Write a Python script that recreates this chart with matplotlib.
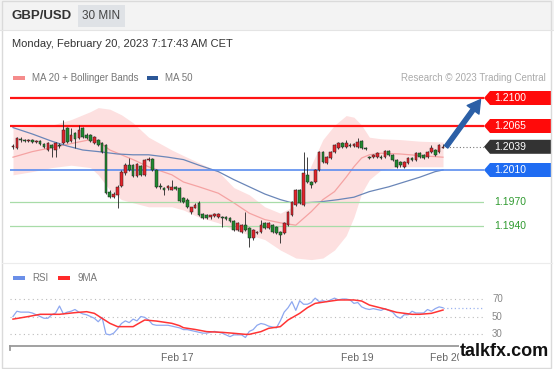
import numpy as np
import matplotlib.pyplot as plt
from matplotlib.patches import Polygon, Rectangle
from matplotlib.transforms import blended_transform_factory

plt.rcParams['font.family'] = ['Liberation Sans', 'DejaVu Sans']

# 30 min GBP/USD candles (open, high, low, close)
opens = [1.2039, 1.2037, 1.2049, 1.2047, 1.2046, 1.2047, 1.2045, 1.2046, 1.2042, 1.2035,
         1.2041, 1.2035, 1.2041, 1.2044, 1.2062, 1.2046, 1.2056, 1.2050, 1.2062, 1.2054,
         1.2054, 1.2044, 1.2047, 1.2044, 1.2041, 1.1982, 1.1976, 1.1979, 1.1990, 1.2006,
         1.2016, 1.2016, 1.2002, 1.2015, 1.2004, 1.2022, 1.2024, 1.2010, 1.1990, 1.1987,
         1.1987, 1.1985, 1.1989, 1.1987, 1.1975, 1.1972, 1.1957, 1.1962, 1.1969, 1.1955,
         1.1954, 1.1951, 1.1952, 1.1951, 1.1951, 1.1951, 1.1950, 1.1946, 1.1935, 1.1932,
         1.1941, 1.1937, 1.1925, 1.1931, 1.1932, 1.1944, 1.1937, 1.1941, 1.1939, 1.1932,
         1.1931, 1.1941, 1.1954, 1.1966, 1.1985, 1.1966, 1.2004, 1.1995, 1.1995, 1.2010,
         1.2032, 1.2019, 1.2025, 1.2032, 1.2037, 1.2044, 1.2039, 1.2041, 1.2040, 1.2039,
         1.2046, 1.2037, 1.2026, 1.2026, 1.2026, 1.2026, 1.2026, 1.2034, 1.2029, 1.2022,
         1.2020, 1.2014, 1.2019, 1.2025, 1.2022, 1.2031, 1.2029, 1.2026, 1.2032, 1.2035,
         1.2032, 1.2037]
highs = [1.2042, 1.2051, 1.2051, 1.2049, 1.2049, 1.2049, 1.2047, 1.2047, 1.2044, 1.2045,
         1.2042, 1.2045, 1.2044, 1.2073, 1.2064, 1.2062, 1.2058, 1.2066, 1.2064, 1.2056,
         1.2055, 1.2052, 1.2049, 1.2045, 1.2042, 1.1985, 1.1982, 1.1991, 1.2010, 1.2019,
         1.2025, 1.2017, 1.2019, 1.2016, 1.2024, 1.2026, 1.2025, 1.2011, 1.1994, 1.1989,
         1.1991, 1.1997, 1.1990, 1.1989, 1.1976, 1.1975, 1.1964, 1.1969, 1.1971, 1.1956,
         1.1955, 1.1954, 1.1956, 1.1956, 1.1952, 1.1952, 1.1951, 1.1947, 1.1945, 1.1942,
         1.1957, 1.1939, 1.1936, 1.1934, 1.1947, 1.1945, 1.1945, 1.1942, 1.1940, 1.1934,
         1.1945, 1.1959, 1.1971, 1.1986, 1.1986, 1.2032, 1.2026, 1.1996, 1.2011, 1.2034,
         1.2034, 1.2027, 1.2034, 1.2042, 1.2045, 1.2045, 1.2047, 1.2044, 1.2044, 1.2050,
         1.2047, 1.2039, 1.2027, 1.2030, 1.2032, 1.2029, 1.2035, 1.2035, 1.2030, 1.2024,
         1.2021, 1.2021, 1.2026, 1.2026, 1.2032, 1.2032, 1.2030, 1.2034, 1.2041, 1.2036,
         1.2042, 1.2042]
lows = [1.2036, 1.2036, 1.2045, 1.2045, 1.2045, 1.2044, 1.2044, 1.2041, 1.2037, 1.2034,
        1.2026, 1.2026, 1.2037, 1.2042, 1.2044, 1.2045, 1.2037, 1.2049, 1.2050, 1.2049,
        1.2045, 1.2042, 1.2040, 1.2031, 1.1980, 1.1975, 1.1975, 1.1962, 1.1989, 1.2004,
        1.2009, 1.2001, 1.2001, 1.2002, 1.2002, 1.2021, 1.2009, 1.1987, 1.1986, 1.1979,
        1.1985, 1.1985, 1.1985, 1.1970, 1.1969, 1.1962, 1.1955, 1.1962, 1.1952, 1.1949,
        1.1949, 1.1949, 1.1951, 1.1950, 1.1939, 1.1947, 1.1945, 1.1934, 1.1934, 1.1931,
        1.1934, 1.1914, 1.1922, 1.1930, 1.1931, 1.1936, 1.1936, 1.1931, 1.1930, 1.1919,
        1.1930, 1.1940, 1.1952, 1.1965, 1.1968, 1.1965, 1.1994, 1.1987, 1.1994, 1.2009,
        1.2019, 1.2017, 1.2024, 1.2031, 1.2036, 1.2037, 1.2037, 1.2039, 1.2039, 1.2037,
        1.2036, 1.2035, 1.2024, 1.2025, 1.2025, 1.2024, 1.2025, 1.2027, 1.2021, 1.2012,
        1.2014, 1.2012, 1.2017, 1.2021, 1.2021, 1.2025, 1.2024, 1.2025, 1.2031, 1.2027,
        1.2031, 1.2037]
closes = [1.2040, 1.2050, 1.2047, 1.2046, 1.2047, 1.2045, 1.2046, 1.2042, 1.2039, 1.2044,
          1.2037, 1.2044, 1.2040, 1.2060, 1.2045, 1.2054, 1.2049, 1.2060, 1.2051, 1.2050,
          1.2046, 1.2051, 1.2041, 1.2032, 1.1981, 1.1976, 1.1980, 1.1989, 1.2007, 1.2016,
          1.2010, 1.2002, 1.2017, 1.2004, 1.2022, 1.2024, 1.2010, 1.1989, 1.1989, 1.1985,
          1.1990, 1.1989, 1.1986, 1.1971, 1.1970, 1.1964, 1.1964, 1.1966, 1.1954, 1.1950,
          1.1950, 1.1954, 1.1955, 1.1955, 1.1950, 1.1949, 1.1946, 1.1935, 1.1944, 1.1941,
          1.1935, 1.1925, 1.1935, 1.1932, 1.1941, 1.1937, 1.1944, 1.1932, 1.1931, 1.1929,
          1.1944, 1.1957, 1.1970, 1.1985, 1.1969, 1.2006, 1.1995, 1.1991, 1.2010, 1.2032,
          1.2020, 1.2026, 1.2032, 1.2041, 1.2044, 1.2039, 1.2044, 1.2040, 1.2042, 1.2045,
          1.2037, 1.2036, 1.2025, 1.2029, 1.2031, 1.2025, 1.2034, 1.2029, 1.2022, 1.2014,
          1.2016, 1.2020, 1.2025, 1.2022, 1.2031, 1.2026, 1.2025, 1.2032, 1.2037, 1.2029,
          1.2041, 1.2039]

# MA 20 + Bollinger bands, read at these candle positions
bb_idx = [0, 5, 10, 15, 20, 22, 25, 28, 31, 35, 41, 44, 48, 53, 57,
          61, 65, 69, 73, 77, 80, 83, 86, 88, 90, 92, 95, 100, 105, 111]
bb_upper = [1.2063, 1.2064, 1.2066, 1.2073, 1.2083, 1.2088, 1.2086, 1.2079, 1.2069, 1.2051,
            1.2035, 1.2028, 1.2019, 1.2008, 1.1988, 1.1979, 1.1964, 1.1956, 1.1966, 1.2016,
            1.2048, 1.2066, 1.2078, 1.2076, 1.2066, 1.2051, 1.2049, 1.2048, 1.2046, 1.2045]
bb_lower = [1.2004, 1.2008, 1.2013, 1.2016, 1.2013, 1.2004, 1.1985, 1.1973, 1.1969, 1.1964,
            1.1964, 1.1960, 1.1951, 1.1944, 1.1935, 1.1929, 1.1923, 1.1910, 1.1900, 1.1898,
            1.1900, 1.1910, 1.1928, 1.1951, 1.1981, 1.1998, 1.2010, 1.2014, 1.2014, 1.2014]
ma20 = [1.2026, 1.2033, 1.2038, 1.2043, 1.2048, 1.2046, 1.2035, 1.2029, 1.2023, 1.2014,
        1.2004, 1.1995, 1.1989, 1.1981, 1.1969, 1.1956, 1.1948, 1.1944, 1.1941, 1.1958,
        1.1973, 1.1983, 1.2001, 1.2014, 1.2025, 1.2029, 1.2031, 1.2030, 1.2028, 1.2026]

ma50_idx = [0, 5, 10, 14, 18, 22, 27, 31, 35, 40, 44, 48, 53, 57,
            61, 65, 69, 72, 75, 79, 84, 88, 92, 97, 101, 105, 109, 111]
ma50 = [1.2063, 1.2055, 1.2046, 1.2040, 1.2035, 1.2033, 1.2030, 1.2029, 1.2029, 1.2026,
        1.2023, 1.2016, 1.2008, 1.1998, 1.1989, 1.1980, 1.1973, 1.1969, 1.1969, 1.1970,
        1.1973, 1.1976, 1.1983, 1.1989, 1.1995, 1.2001, 1.2008, 1.2010]

# key levels
resistances = [1.2100, 1.2065]
pivot = 1.2010
supports = [1.1970, 1.1940]
last_price = 1.2039
target = 1.2100

# RSI per candle and its 9 period average
rsi = [50, 56, 55, 55, 55, 54, 52, 50, 48, 48, 52, 54, 62, 53, 55, 56, 58, 55, 53, 52,
       50, 48, 44, 49, 30, 29, 31, 36, 42, 45, 43, 47, 45, 50, 49, 46, 41, 40, 40, 40,
       40, 39, 38, 37, 35, 35, 34, 33, 32, 31, 31, 32, 33, 32, 31, 29, 27, 29, 29, 29,
       26, 33, 35, 40, 42, 41, 39, 38, 37, 45, 55, 60, 67, 57, 68, 64, 64, 66, 71, 67,
       68, 67, 69, 71, 69, 70, 70, 69, 65, 66, 61, 59, 58, 59, 58, 57, 59, 57, 55, 50,
       48, 52, 52, 56, 54, 54, 54, 58, 56, 59, 61, 60]
ma9_idx = [0, 4, 7, 12, 16, 19, 21, 23, 25, 27, 31, 32, 34, 37, 41, 43, 44, 47, 50, 54,
           57, 60, 61, 64, 66, 69, 71, 74, 76, 78, 81, 84, 88, 90, 92, 96, 99, 103, 105, 108, 111]
ma9 = [47, 50, 52.5, 52.5, 54.4, 55.5, 53.6, 47.9, 42.2, 38.4, 38.4, 41, 46, 44.8, 42.2, 39.5,
       37.2, 35.2, 32.7, 31.9, 30.8, 29.6, 29.6, 32.7, 36.5, 38.4, 46, 53.6, 60.1, 65, 67,
       68.9, 68.9, 67.7, 63.1, 58.6, 54.8, 52.5, 52.5, 53.6, 57.4]
rsi_levels = [30, 50, 70]

tick_pos = [42.3, 89, 111.8]
tick_labels = ['Feb 17', 'Feb 19', 'Feb 20']

W, H = 554, 369


def fx(px):
    return px / W


def fy(py):
    return 1 - py / H


fig = plt.figure(figsize=(W / 100, H / 100), dpi=100)

# header and frame
fig.patches.append(Rectangle((0, fy(30)), 1, 30 / H, transform=fig.transFigure,
                             facecolor='#f3f3f3', edgecolor='none', zorder=0))
fig.patches.append(Rectangle((fx(78), fy(27)), 47 / W, 22 / H, transform=fig.transFigure,
                             facecolor='#dfe2e6', edgecolor='none', zorder=1))
fig.patches.append(Rectangle((fx(2), fy(368)), 549 / W, 367 / H, transform=fig.transFigure,
                             facecolor='none', edgecolor='#dadada', lw=1, zorder=1))
fig.add_artist(plt.Line2D([0, 1], [fy(30), fy(30)], color='#e4e4e4', lw=0.8))
fig.add_artist(plt.Line2D([fx(2), fx(552)], [fy(263), fy(263)], color='#ececec', lw=0.8))
fig.text(fx(12), fy(16), 'GBP/USD', fontsize=9.5, weight='bold', color='#333333', va='center')
fig.text(fx(101.5), fy(16), '30 MIN', fontsize=8.5, color='#444444', va='center', ha='center')
fig.text(fx(12), fy(44), 'Monday, February 20, 2023 7:17:43 AM CET', fontsize=8,
         color='#333333', va='center')

# legends
fig.patches.append(Rectangle((fx(13), fy(80)), 12 / W, 4 / H, transform=fig.transFigure,
                             facecolor='#f58c8c', edgecolor='none'))
fig.text(fx(32), fy(78), 'MA 20 + Bollinger Bands', fontsize=7, color='#777777', va='center')
fig.patches.append(Rectangle((fx(147), fy(80)), 11 / W, 4 / H, transform=fig.transFigure,
                             facecolor='#2b5797', edgecolor='none'))
fig.text(fx(165), fy(78), 'MA 50', fontsize=7, color='#777777', va='center')
fig.text(fx(546), fy(78), 'Research \u00a9 2023 Trading Central', fontsize=7,
         color='#aaaaaa', va='center', ha='right')
fig.patches.append(Rectangle((fx(13), fy(280)), 12 / W, 4 / H, transform=fig.transFigure,
                             facecolor='#6b8fe8', edgecolor='none'))
fig.text(fx(32), fy(278), 'RSI', fontsize=7, color='#777777', va='center')
fig.patches.append(Rectangle((fx(58), fy(280)), 12 / W, 4 / H, transform=fig.transFigure,
                             facecolor='#ff2a2a', edgecolor='none'))
fig.text(fx(77), fy(278), '9MA', fontsize=7, color='#777777', va='center')

# price pane
n = len(closes)
step = 430 / (n - 1)
xlim = ((10 - 13) / step, (484 - 13) / step)
ax = fig.add_axes([fx(10), fy(262), 474 / W, 174 / H])
ylo = 1.2100 - (262 - 98) / 8000
yhi = 1.2100 + (98 - 88) / 8000
ax.set_xlim(*xlim)
ax.set_ylim(ylo, yhi)
ax.axis('off')

ax.fill_between(bb_idx, bb_lower, bb_upper, color='#fde0e0', lw=0, zorder=1)
ax.plot(bb_idx, ma20, color='#f5a3a3', lw=0.9, zorder=2)
ax.plot(ma50_idx, ma50, color='#6a86b8', lw=0.9, zorder=2)

for r in resistances:
    ax.axhline(r, color='#ff1414', lw=1.6, zorder=2)
ax.axhline(pivot, color='#5b8def', lw=1.2, zorder=2)
for s in supports:
    ax.axhline(s, color='#a8dca8', lw=0.9, zorder=2)

x = np.arange(n)
o, h, l, c = map(np.array, (opens, highs, lows, closes))
up = c >= o
colors = np.where(up, '#e3232a', '#1f8a2e')
ax.vlines(x, l, h, color='#222222', lw=0.6, zorder=3)
body = np.maximum(np.abs(c - o), 0.00007)
ax.bar(x, body, bottom=np.minimum(o, c), width=0.7, color=colors,
       edgecolor='#222222', linewidth=0.35, zorder=4)

ax.hlines(last_price, n - 0.3, xlim[1], color='#777777', lw=0.8,
          linestyle=(0, (1, 2)), zorder=2)
ax.annotate('', xy=(xlim[1] - 0.9, target - 0.0002), xytext=(n - 0.2, last_price),
            arrowprops=dict(arrowstyle='simple,head_width=0.75,head_length=0.65,tail_width=0.22',
                            color='#2b5fa6', mutation_scale=14, shrinkA=0, shrinkB=0),
            zorder=6, annotation_clip=False)

# level tags on the right
tr = blended_transform_factory(ax.transAxes, ax.transData)
aw = 474
hh = 7 / 8000
tags = [(resistances[0], '#ff0a0a'), (resistances[1], '#ff0a0a'),
        (last_price, '#333333'), (pivot, '#1f6cf2')]
for lev, col in tags:
    pts = [(1.0, lev), (1 + 6 / aw, lev + hh), (1 + 67 / aw, lev + hh),
           (1 + 67 / aw, lev - hh), (1 + 6 / aw, lev - hh)]
    ax.add_patch(Polygon(pts, closed=True, transform=tr, facecolor=col,
                         edgecolor='none', clip_on=False, zorder=5))
    ax.text(1 + 10 / aw, lev, '%.4f' % lev, transform=tr, color='white', fontsize=7.5,
            va='center', ha='left', clip_on=False, zorder=6)
for s in supports:
    ax.text(1 + 10 / aw, s, '%.4f' % s, transform=tr, color='#2f9a2f', fontsize=7.5,
            va='center', ha='left', clip_on=False)

# RSI pane
ax2 = fig.add_axes([fx(10), fy(346), 474 / W, 56 / H])
ax2.set_xlim(*xlim)
ax2.set_ylim(30 - (346 - 334) / 0.875, 70 + (299 - 290) / 0.875)
for side in ['top', 'right', 'left', 'bottom']:
    ax2.spines[side].set_visible(False)
for v in rsi_levels:
    ax2.axhline(v, color='#bbbbbb', lw=0.8, linestyle=(0, (1, 3)))
    ax2.text(1 + 8 / aw, v, str(v), transform=blended_transform_factory(ax2.transAxes, ax2.transData),
             fontsize=7, color='#888888', va='center', ha='left')
ax2.plot(x, rsi, color='#8ea8f0', lw=0.9)
ax2.plot(ma9_idx, ma9, color='#ff3434', lw=1.1)
ax2.hlines(rsi[-1], n - 1, xlim[1], color='#9fb5f0', lw=0.9, linestyle=(0, (1, 2)))
ax2.plot([0, 1], [0, 0], transform=ax2.transAxes, color='#9a9a9a', lw=1.3, clip_on=False)
ax2.plot([0, 0], [0, -4 / 56], transform=ax2.transAxes, color='#9a9a9a', lw=1.3, clip_on=False)
ax2.plot([1, 1], [0, -4 / 56], transform=ax2.transAxes, color='#9a9a9a', lw=1.3, clip_on=False)
ax2.set_yticks([])
ax2.set_xticks(tick_pos)
ax2.set_xticklabels(tick_labels)
ax2.tick_params(axis='x', length=0, pad=5, labelsize=7.5, labelcolor='#666666')

fig.text(fx(504), fy(352), 'talkfx.com', fontsize=13, weight='bold', color='#111111',
         ha='center', va='center',
         bbox=dict(facecolor='white', edgecolor='none', pad=0.5))

fig.savefig('out.png', dpi=100)
